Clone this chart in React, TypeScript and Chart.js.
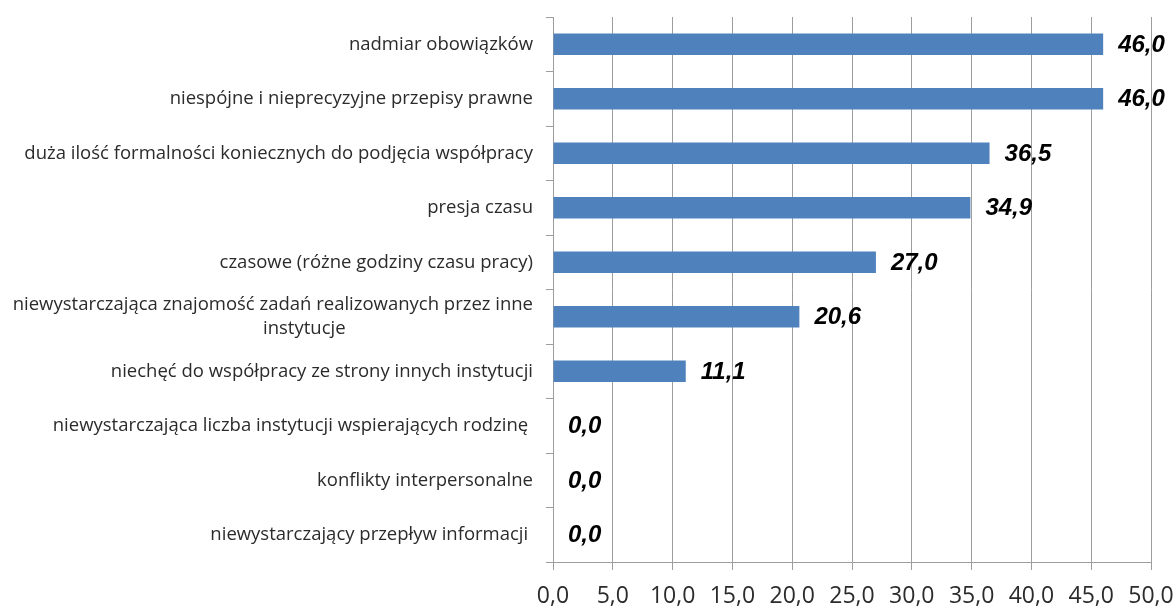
import React, { useEffect, useRef } from "react";
import { Chart, registerables } from "chart.js";

Chart.register(...registerables);

const categories: (string | string[])[] = [
  "nadmiar obowiązków",
  "niespójne i nieprecyzyjne przepisy prawne",
  "duża ilość formalności koniecznych do podjęcia współpracy",
  "presja czasu",
  "czasowe (różne godziny czasu pracy)",
  ["niewystarczająca znajomość zadań realizowanych przez inne", "instytucje" + " ".repeat(39)],
  "niechęć do współpracy ze strony innych instytucji",
  "niewystarczająca liczba instytucji wspierających rodzinę ",
  "konflikty interpersonalne",
  "niewystarczający przepływ informacji ",
];

const values: number[] = [46.0, 46.0, 36.5, 34.9, 27.0, 20.6, 11.1, 0.0, 0.0, 0.0];

const xMin = 0;
const xMax = 50;
const xStep = 5;

const fmt = (v: number) => v.toFixed(1).replace(".", ",");

const valueLabels = {
  id: "valueLabels",
  afterDatasetsDraw(chart: any) {
    const ctx = chart.ctx;
    const meta = chart.getDatasetMeta(0);
    ctx.save();
    ctx.font = "italic bold 24px 'Liberation Sans', Arial, sans-serif";
    ctx.fillStyle = "#000000";
    ctx.textAlign = "left";
    ctx.textBaseline = "middle";
    meta.data.forEach((bar: any, i: number) => {
      ctx.fillText(fmt(values[i]), bar.x + 15, bar.y + 1);
    });
    ctx.restore();
  },
};

export default function App() {
  const ref = useRef<HTMLCanvasElement | null>(null);
  useEffect(() => {
    if (!ref.current) return;
    const gridColor = "#9d9d9d";
    const chart = new Chart(ref.current, {
      type: "bar",
      data: {
        labels: categories,
        datasets: [
          {
            data: values,
            backgroundColor: "#4F81BD",
            borderWidth: 0,
            categoryPercentage: 1,
            barPercentage: 0.39,
          },
        ],
      },
      options: {
        indexAxis: "y",
        animation: false,
        responsive: false,
        maintainAspectRatio: false,
        layout: { padding: { left: 0, right: 25, top: 17, bottom: 0 } },
        plugins: {
          legend: { display: false },
          tooltip: { enabled: false },
        },
        scales: {
          x: {
            min: xMin,
            max: xMax,
            ticks: {
              stepSize: xStep,
              color: "#2b2b2b",
              font: { family: "'Open Sans'", size: 23 },
              padding: 13,
              callback: (v: any) => fmt(Number(v)),
              maxRotation: 0,
            },
            grid: { color: gridColor, lineWidth: 1, tickLength: 8 },
            border: { color: gridColor, width: 1 },
            afterFit: (s: any) => {
              s.height = 46;
              s.paddingLeft = 0;
              s.paddingRight = 0;
            },
          },
          y: {
            ticks: {
              color: "#2b2b2b",
              font: { family: "'Open Sans'", size: 18.5, lineHeight: 1.3 },
              padding: 13,
              autoSkip: false,
            },
            grid: {
              drawOnChartArea: false,
              drawTicks: true,
              tickLength: 7,
              color: gridColor,
              offset: true,
            },
            border: { color: gridColor, width: 1 },
            afterFit: (s: any) => {
              s.width = 553;
              s.paddingTop = 0;
              s.paddingBottom = 0;
            },
          },
        },
      },
      plugins: [valueLabels],
    });
    return () => chart.destroy();
  }, []);
  return (
    <div style={{ position: "fixed", left: 0, top: 0, width: 1176, height: 608, background: "#fff" }}>
      <canvas ref={ref} width={1176} height={608} style={{ width: 1176, height: 608 }} />
    </div>
  );
}
